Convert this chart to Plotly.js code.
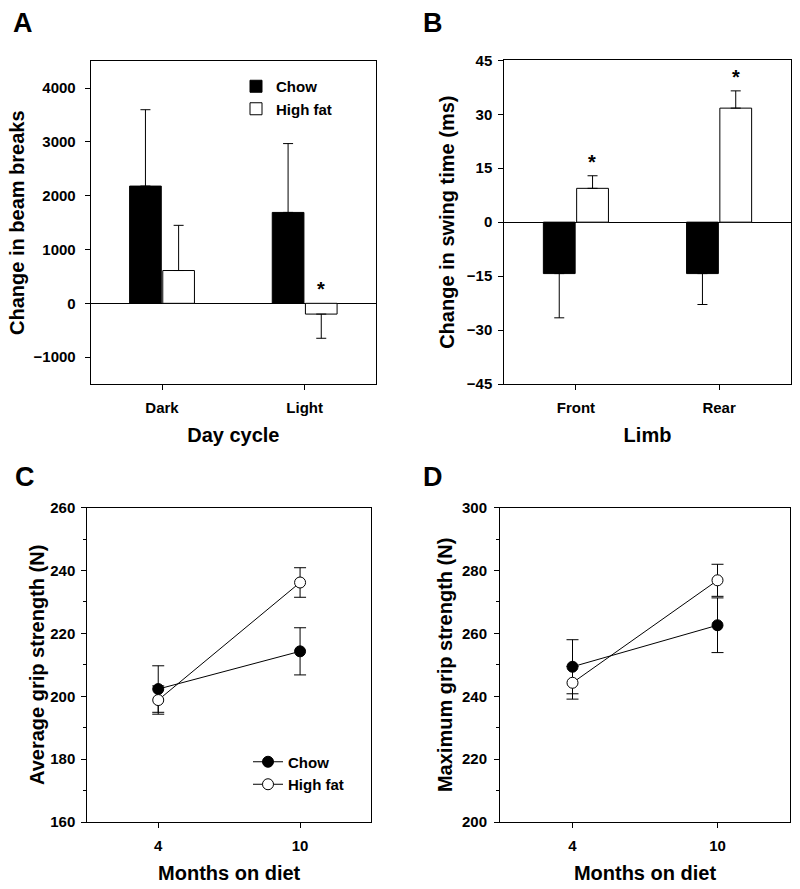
<!DOCTYPE html>
<html>
<head>
<meta charset="utf-8">
<script src="https://cdn.plot.ly/plotly-3.0.1.min.js"></script>
<style>
html,body{margin:0;padding:0;background:#fff;}
#chart{width:800px;height:889px;}
</style>
</head>
<body>
<div id="chart"></div>
<script>
// ---- Panel A: change in beam breaks ----
var cycles = ['Dark', 'Light'];
var beamChow = [2180, 1690];
var beamChowErr = [1420, 1280];
var beamHF = [610, -200];
var beamHFErr = [840, 450];
var beamSig = [false, true];

// ---- Panel B: change in swing time (ms) ----
var limbs = ['Front', 'Rear'];
var swingChow = [-14.3, -14.3];
var swingChowErr = [12.3, 8.6];
var swingHF = [9.4, 31.7];
var swingHFErr = [3.5, 4.8];
var swingSig = [true, true];

// ---- Panel C: average grip strength (N) ----
var months = ['4', '10'];
var avgChow = [202.3, 214.3];
var avgChowErr = [7.4, 7.5];
var avgHF = [198.8, 236.2];
var avgHFErr = [4.5, 4.7];
var avgSig = [false, true];

// ---- Panel D: maximum grip strength (N) ----
var maxChow = [249.4, 262.6];
var maxChowErr = [8.6, 8.7];
var maxHF = [244.3, 276.9];
var maxHFErr = [5.2, 5.1];

var FONT = "Arial, 'Liberation Sans', Helvetica, sans-serif";

function upErr(vals, errs) { return vals.map(function (v, i) { return v >= 0 ? errs[i] : 0; }); }
function downErr(vals, errs) { return vals.map(function (v, i) { return v < 0 ? errs[i] : 0; }); }

function barTrace(x, y, err, name, fill, xa, ya, showleg) {
  return {
    type: 'bar', x: x, y: y, name: name, xaxis: xa, yaxis: ya,
    showlegend: showleg, legend: 'legend',
    marker: { color: fill, line: { color: '#000', width: 1 } },
    error_y: { type: 'data', symmetric: false, array: upErr(y, err), arrayminus: downErr(y, err),
      color: '#000', thickness: 1, width: 5 },
    hoverinfo: 'x+y'
  };
}
function lineTrace(x, y, err, name, fill, xa, ya, showleg) {
  return {
    type: 'scatter', mode: 'lines+markers', x: x, y: y, name: name, xaxis: xa, yaxis: ya,
    showlegend: showleg, legend: 'legend2',
    line: { color: '#000', width: 1 },
    marker: { size: 11, color: fill, line: { color: '#000', width: 1 } },
    error_y: { type: 'data', array: err, color: '#000', thickness: 1, width: 6 }
  };
}

var data = [
  barTrace(cycles, beamChow, beamChowErr, 'Chow', '#000', 'x', 'y', true),
  barTrace(cycles, beamHF, beamHFErr, 'High fat', '#fff', 'x', 'y', true),
  barTrace(limbs, swingChow, swingChowErr, 'Chow', '#000', 'x2', 'y2', false),
  barTrace(limbs, swingHF, swingHFErr, 'High fat', '#fff', 'x2', 'y2', false),
  lineTrace(months, avgChow, avgChowErr, 'Chow', '#000', 'x3', 'y3', true),
  lineTrace(months, avgHF, avgHFErr, 'High fat', '#fff', 'x3', 'y3', true),
  lineTrace(months, maxChow, maxChowErr, 'Chow', '#000', 'x4', 'y4', false),
  lineTrace(months, maxHF, maxHFErr, 'High fat', '#fff', 'x4', 'y4', false)
];

var W = 800, H = 889;
function px(v) { return v / W; }
function py(v) { return 1 - v / H; }

var tickFont = { family: FONT, size: 15, color: '#000', weight: 'bold' };
var titleFont = { family: FONT, size: 20, color: '#000', weight: 'bold' };

function xAxis(dom, anchor, title, standoff) {
  return {
    domain: dom, anchor: anchor, type: 'category', range: [-0.5, 1.5],
    showline: true, linecolor: '#000', linewidth: 1, mirror: true,
    ticks: 'outside', ticklen: 5, tickwidth: 1, tickcolor: '#000',
    tickfont: tickFont, ticklabelstandoff: 5,
    showgrid: false, zeroline: false, fixedrange: true,
    title: { text: title, font: titleFont, standoff: standoff }
  };
}
function yAxis(dom, anchor, range, dtick, title, standoff, labStand, minor, zero) {
  var a = {
    domain: dom, anchor: anchor, range: range, dtick: dtick, tick0: 0,
    showline: true, linecolor: '#000', linewidth: 1, mirror: true,
    ticks: 'outside', ticklen: 5, tickwidth: 1, tickcolor: '#000',
    tickfont: tickFont, ticklabelstandoff: labStand,
    showgrid: false, fixedrange: true,
    zeroline: zero, zerolinecolor: '#000', zerolinewidth: 1,
    title: { text: title, font: titleFont, standoff: standoff }
  };
  if (minor) a.minor = { dtick: minor, ticks: 'outside', ticklen: 3, tickcolor: '#000', tickwidth: 1, showgrid: false };
  return a;
}

var annotations = [];
function letter(t, x, y) {
  annotations.push({ text: t, xref: 'paper', yref: 'paper', x: px(x), y: py(y), xanchor: 'left', yanchor: 'middle',
    showarrow: false, font: { family: FONT, size: 27, color: '#000', weight: 'bold' } });
}
letter('A', 11, 22.5);
letter('B', 421, 22.5);
letter('C', 13, 476.5);
letter('D', 421, 476.5);

function stars(xs, vals, errs, sig, xref, yref, xshift) {
  xs.forEach(function (c, i) {
    if (!sig[i]) return;
    var top = vals[i] >= 0 ? vals[i] + errs[i] : 0;
    annotations.push({ text: '*', xref: xref, yref: yref, x: c, y: top, xshift: xshift, yshift: 1,
      xanchor: 'center', yanchor: 'bottom', showarrow: false,
      font: { family: FONT, size: 20, color: '#000', weight: 'bold' } });
  });
}
stars(cycles, beamHF, beamHFErr, beamSig, 'x', 'y', 16.5);
stars(limbs, swingHF, swingHFErr, swingSig, 'x2', 'y2', 16.5);
stars(months, avgHF, avgHFErr, avgSig, 'x3', 'y3', 0);

var layout = {
  width: W, height: H,
  margin: { l: 0, r: 0, t: 0, b: 0 },
  paper_bgcolor: '#fff', plot_bgcolor: '#fff',
  font: { family: FONT, color: '#000' },
  barmode: 'group', bargap: 0.535, bargroupgap: 0.045,
  xaxis: xAxis([px(90.7), px(376)], 'y', 'Day cycle', 12),
  yaxis: yAxis([py(384), py(61.3)], 'x', [-1500, 4500], 1000, 'Change in beam breaks', 3, 6, null, true),
  xaxis2: xAxis([px(504.3), px(790.7)], 'y2', 'Limb', 12),
  yaxis2: yAxis([py(384), py(60.3)], 'x2', [-45, 45], 15, 'Change in swing time (ms)', 6, 3, null, true),
  xaxis3: xAxis([px(87.3), px(371)], 'y3', 'Months on diet', 12),
  yaxis3: yAxis([py(822), py(507.7)], 'x3', [160, 260], 20, 'Average grip strength (N)', 0, 3, 10, false),
  xaxis4: xAxis([px(500), px(790)], 'y4', 'Months on diet', 12),
  yaxis4: yAxis([py(822), py(507.7)], 'x4', [200, 300], 20, 'Maximum grip strength (N)', 3, 4, 10, false),
  legend: { x: px(236), y: py(70), xanchor: 'left', yanchor: 'top', bgcolor: 'rgba(0,0,0,0)',
    font: { family: FONT, size: 15, color: '#000', weight: 'bold' }, tracegroupgap: 0 },
  legend2: { x: px(248), y: py(745.5), xanchor: 'left', yanchor: 'top', bgcolor: 'rgba(0,0,0,0)',
    font: { family: FONT, size: 15, color: '#000', weight: 'bold' }, tracegroupgap: 0 },
  annotations: annotations,
  showlegend: true
};

Plotly.newPlot('chart', data, layout, { staticPlot: true, displayModeBar: false });
</script>
</body>
</html>
